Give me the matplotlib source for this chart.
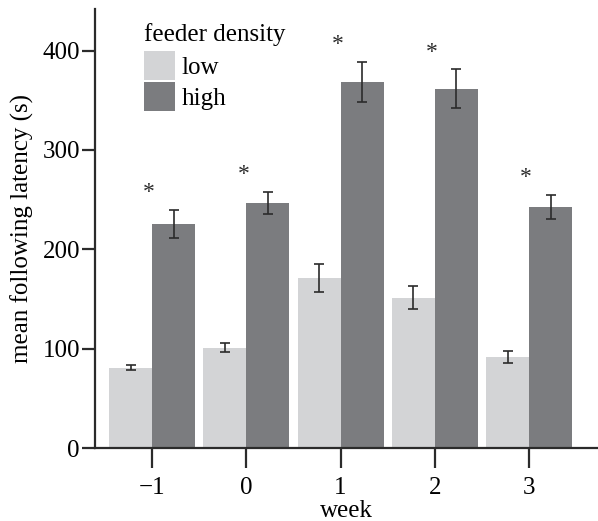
import numpy as np
from matplotlib import pyplot as plt

# data
weeks = ["\u22121", "0", "1", "2", "3"]
low_mean = [80.6, 100.8, 171.3, 151.1, 91.7]
low_err = [2.5, 4.5, 14.0, 11.5, 6.0]
high_mean = [225.7, 246.9, 368.4, 361.4, 242.8]
high_err = [14.2, 11.2, 20.6, 19.6, 12.2]
signif = [True, True, True, True, True]

plt.rcParams['font.family'] = ['Liberation Serif', 'DejaVu Serif']

fig = plt.figure(figsize=(5.98, 5.21), dpi=100)
ax = fig.add_axes([0.159, 0.140, 0.841, 0.843])

x = np.arange(len(weeks))
w = 0.456
low_col = '#d3d4d6'
high_col = '#7b7c7f'
axcol = '#2b2b2b'

ax.bar(x - w / 2, low_mean, w, color=low_col, label='low',
       yerr=low_err, capsize=3.6, error_kw=dict(elinewidth=1.2, capthick=1.2, ecolor=axcol))
ax.bar(x + w / 2, high_mean, w, color=high_col, label='high',
       yerr=high_err, capsize=3.6, error_kw=dict(elinewidth=1.2, capthick=1.2, ecolor=axcol))

# significance stars over each week
for i in range(len(weeks)):
    if signif[i]:
        ax.text(x[i] - 0.03, high_mean[i] + high_err[i] + 17, '*',
                ha='center', va='center', fontsize=17, color=axcol)

ax.set_xlim(-0.605, len(weeks) - 1 + 0.732)
ax.set_ylim(0, 442)
ax.set_xticks(x)
ax.set_xticklabels(weeks)
ax.set_yticks([0, 100, 200, 300, 400])

for s in ['top', 'right']:
    ax.spines[s].set_visible(False)
for s in ['left', 'bottom']:
    ax.spines[s].set_linewidth(1.6)
    ax.spines[s].set_color(axcol)

ax.tick_params(axis='x', length=14.4, width=1.6, color=axcol, labelsize=18, pad=6.5)
ax.tick_params(axis='y', length=9.4, width=1.6, color=axcol, labelsize=18, pad=1.5)

ax.set_xlabel('week', fontsize=18, labelpad=1)
ax.set_ylabel('mean following latency (s)', fontsize=18, labelpad=6)

leg = ax.legend(title='feeder density', loc='upper left', bbox_to_anchor=(0.082, 0.985),
                frameon=False, fontsize=18, title_fontsize=18,
                handlelength=1.25, handleheight=1.4, labelspacing=0.08,
                handletextpad=0.25, borderaxespad=0.1, borderpad=0.2)
leg._legend_box.align = 'left'
leg._legend_box.sep = 4

plt.savefig('out.png', dpi=100)
